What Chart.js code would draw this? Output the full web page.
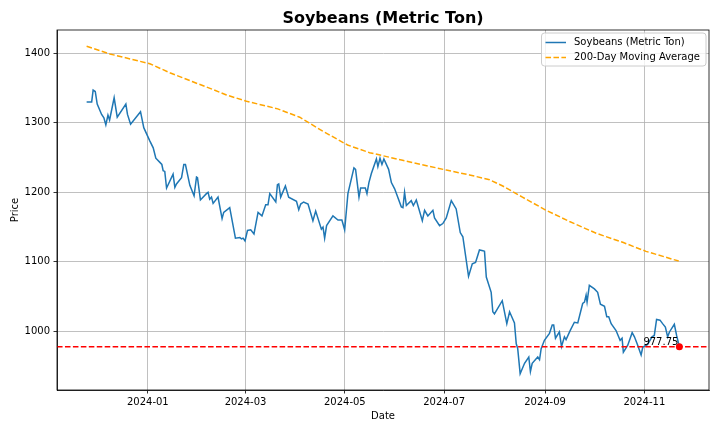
<!DOCTYPE html>
<html>
<head>
<meta charset="utf-8">
<script src="https://cdn.jsdelivr.net/npm/chart.js@4"></script>
<style>
  html, body { margin: 0; padding: 0; background: #fff; }
  #wrap { width: 720px; height: 432px; }
</style>
</head>
<body>
<div id="wrap"><canvas id="soyChart" width="720" height="432"></canvas></div>
<script>
// days are counted from 2024-01-01 (0 = Jan 1, negative = late 2023)

// Soybeans close
const priceDays = [
  -37.6, -34.5, -33.6, -32.3, -31.1, -28.4, -27.0, -25.8, -24.5, -23.5,
  -20.7, -18.8, -13.5, -12.5, -10.6, -4.5, -2.5, 1.2, 3.3, 4.9,
  7.4, 8.6, 9.4, 10.4, 11.5, 15.5, 16.6, 17.6, 20.7, 22.1,
  23.1, 25.8, 28.4, 29.9, 30.5, 32.3, 36.0, 37.0, 38.0, 39.1,
  40.1, 43.1, 45.6, 46.6, 50.3, 53.8, 56.5, 57.5, 58.5, 59.7,
  61.2, 63.2, 65.2, 67.7, 70.1, 72.4, 73.8, 74.9, 78.6, 79.6,
  80.4, 81.6, 84.5, 86.5, 91.3, 92.7, 93.9, 95.7, 98.4, 101.4,
  103.1, 106.6, 107.6, 108.6, 109.8, 113.7, 116.8, 119.2, 120.9, 122.9,
  126.6, 127.6, 129.7, 130.7, 133.6, 134.6, 135.8, 137.3, 140.4, 141.3,
  142.6, 143.8, 145.0, 147.9, 149.6, 151.6, 155.7, 156.7, 157.7, 158.8,
  161.8, 163.1, 164.9, 168.6, 170.0, 172.0, 175.1, 176.1, 179.2, 181.2,
  183.3, 186.4, 189.4, 191.9, 193.5, 197.0, 199.3, 201.3, 203.7, 205.8,
  206.8, 207.9, 210.9, 211.9, 212.9, 217.7, 220.5, 222.2, 225.2, 226.3,
  227.2, 228.7, 231.4, 234.0, 235.0, 236.1, 239.5, 240.6, 241.6, 243.6,
  246.7, 248.4, 249.3, 250.4, 252.8, 254.1, 255.9, 256.9, 259.4, 262.0,
  264.1, 267.1, 268.2, 269.2, 269.8, 271.2, 274.3, 276.3, 278.0, 280.5,
  281.9, 283.1, 284.6, 287.6, 290.1, 291.3, 292.1, 294.8, 297.5, 298.9,
  300.9, 303.0, 304.0, 307.0, 309.7, 311.1, 312.5, 314.6, 316.2, 317.9,
  319.3, 320.4, 323.4, 324.8, 326.5
];
const prices = [
  1330, 1330, 1347, 1345, 1327, 1312, 1307, 1297, 1311, 1304,
  1336, 1308, 1327, 1312, 1298, 1316, 1293, 1274, 1264, 1249,
  1243, 1240, 1231, 1230, 1206, 1226, 1207, 1212, 1221, 1240,
  1240, 1210, 1195, 1222, 1221, 1189, 1198, 1200, 1190, 1193,
  1184, 1193, 1162, 1171, 1178, 1134, 1135, 1133, 1134, 1130,
  1145, 1146, 1140, 1171, 1166, 1182, 1182, 1198, 1186, 1211,
  1212, 1193, 1209, 1193, 1187, 1175, 1183, 1186, 1183, 1159,
  1173, 1147, 1150, 1134, 1152, 1166, 1160, 1160, 1146, 1198,
  1235, 1233, 1193, 1206, 1206, 1198, 1214, 1227, 1248, 1237,
  1249, 1240, 1248, 1233, 1214, 1205, 1179, 1178, 1200, 1181,
  1188, 1181, 1189, 1159, 1174, 1166, 1174, 1163, 1152, 1155,
  1163, 1188, 1176, 1142, 1136, 1079, 1097, 1099, 1117, 1116,
  1115, 1078, 1056, 1028, 1025, 1044, 1011, 1028, 1012, 982,
  975, 939, 954, 963, 942, 954, 963, 959, 975, 987,
  997, 1009, 1009, 990, 999, 978, 992, 988, 1001, 1013,
  1012, 1040, 1042, 1052, 1042, 1066, 1061, 1056, 1039, 1036,
  1021, 1021, 1011, 1001, 987, 990, 970, 980, 998, 992,
  980, 966, 977, 981, 992, 994, 1017, 1016, 1011, 1006,
  992, 999, 1010, 994, 977.75
];

// 200-day moving average
const maDays = [
  -37.6, -23.3, 1.2, 13.5, 27.6, 39.9, 48.3, 60.6, 79.8, 93.3,
  107.4, 122.7, 136.2, 156.5, 183.3, 197.6, 209.9, 218.0, 230.1, 244.7,
  259.0, 275.4, 291.7, 306.0, 326.1
];
const maValues = [
  1410, 1399, 1385, 1372, 1359, 1348, 1340, 1331, 1320, 1308,
  1288, 1268, 1257, 1246, 1232, 1225, 1218, 1209, 1193, 1174,
  1158, 1141, 1128, 1115, 1101
];

const lastDay = 326.5;
const lastClose = 977.75;

const tickDays = [0, 60, 121, 182, 244, 305];
const tickLabels = ['2024-01', '2024-03', '2024-05', '2024-07', '2024-09', '2024-11'];
const yTicks = [1000, 1100, 1200, 1300, 1400];

const xMin = -55.8, xMax = 344.7;
const yMin = 915.5, yMax = 1433.5;

const FONT = 'DejaVu Sans';
const BLUE = '#1f77b4';
const ORANGE = '#ffa500';
const DASH = [5.55, 2.4];

// title, frame, annotation and the in-plot legend, drawn the matplotlib way
const extras = {
  id: 'extras',
  afterDatasetsDraw(chart) {
    const { ctx, chartArea: a, scales } = chart;
    ctx.save();
    // frame
    ctx.strokeStyle = '#000';
    ctx.lineWidth = 0.8;
    ctx.strokeRect(a.left, a.top, a.right - a.left, a.bottom - a.top);

    // title
    ctx.fillStyle = '#000';
    ctx.font = 'bold 16px "' + FONT + '"';
    ctx.textAlign = 'center';
    ctx.textBaseline = 'alphabetic';
    ctx.fillText('Soybeans (Metric Ton)', (a.left + a.right) / 2, 23);

    // last close label
    ctx.font = '10px "' + FONT + '"';
    ctx.textAlign = 'right';
    ctx.fillText(lastClose.toFixed(2), scales.x.getPixelForValue(lastDay) - 1,
      scales.y.getPixelForValue(lastClose) - 2);

    // legend box
    const bx = 541.5, by = 33, bw = 164.5, bh = 33, r = 3;
    ctx.beginPath();
    ctx.roundRect(bx, by, bw, bh, r);
    ctx.fillStyle = 'rgba(255,255,255,0.8)';
    ctx.fill();
    ctx.strokeStyle = '#cccccc';
    ctx.lineWidth = 1;
    ctx.stroke();

    const rows = [
      { text: 'Soybeans (Metric Ton)', color: BLUE, dash: [] },
      { text: '200-Day Moving Average', color: ORANGE, dash: DASH }
    ];
    rows.forEach((row, i) => {
      const yy = by + 9.5 + i * 15;
      ctx.beginPath();
      ctx.setLineDash(row.dash);
      ctx.strokeStyle = row.color;
      ctx.lineWidth = 1.5;
      ctx.moveTo(545.5, yy);
      ctx.lineTo(566, yy);
      ctx.stroke();
      ctx.setLineDash([]);
      ctx.fillStyle = '#000';
      ctx.font = '10px "' + FONT + '"';
      ctx.textAlign = 'left';
      ctx.textBaseline = 'middle';
      ctx.fillText(row.text, 574, yy);
    });
    ctx.restore();
  }
};

const ctx = document.getElementById('soyChart').getContext('2d');
new Chart(ctx, {
  type: 'line',
  data: {
    datasets: [
      {
        label: 'last',
        type: 'scatter',
        data: [{ x: lastDay, y: lastClose }],
        backgroundColor: 'red',
        borderColor: 'red',
        pointRadius: 3.5,
        borderWidth: 0
      },
      {
        label: 'level',
        data: [{ x: xMin, y: lastClose }, { x: xMax, y: lastClose }],
        borderColor: 'red',
        borderWidth: 1.5,
        borderDash: DASH,
        pointRadius: 0
      },
      {
        label: '200-Day Moving Average',
        data: maDays.map((d, i) => ({ x: d, y: maValues[i] })),
        borderColor: ORANGE,
        borderWidth: 1.5,
        borderDash: DASH,
        pointRadius: 0
      },
      {
        label: 'Soybeans (Metric Ton)',
        data: priceDays.map((d, i) => ({ x: d, y: prices[i] })),
        borderColor: BLUE,
        borderWidth: 1.5,
        pointRadius: 0
      }
    ]
  },
  options: {
    responsive: false,
    animation: false,
    devicePixelRatio: 1,
    layout: { padding: { top: 30, right: 11, left: 0, bottom: 0 } },
    plugins: {
      legend: { display: false },
      tooltip: { enabled: false },
      title: { display: false }
    },
    scales: {
      x: {
        type: 'linear',
        min: xMin,
        max: xMax,
        afterBuildTicks: s => { s.ticks = tickDays.map(v => ({ value: v })); },
        afterFit: s => { s.height = 42; },
        ticks: {
          autoSkip: false,
          maxRotation: 0,
          padding: 3,
          color: '#000',
          font: { family: FONT, size: 10 },
          callback: v => tickLabels[tickDays.indexOf(v)]
        },
        grid: { color: '#b0b0b0', lineWidth: 0.8, tickLength: 3.5, tickColor: '#000', tickWidth: 0.8 },
        border: { color: '#000', width: 0.8 },
        title: { display: true, text: 'Date', color: '#000', font: { family: FONT, size: 10 }, padding: { top: 0, bottom: 10 } }
      },
      y: {
        min: yMin,
        max: yMax,
        afterBuildTicks: s => { s.ticks = yTicks.map(v => ({ value: v })); },
        afterFit: s => { s.width = 57; },
        ticks: {
          padding: 3.5,
          color: '#000',
          font: { family: FONT, size: 10 },
          callback: v => String(v)
        },
        grid: { color: '#b0b0b0', lineWidth: 0.8, tickLength: 3.5, tickColor: '#000', tickWidth: 0.8 },
        border: { color: '#000', width: 0.8 },
        title: { display: true, text: 'Price', color: '#000', font: { family: FONT, size: 10 }, padding: { top: 9.5, bottom: 0 } }
      }
    }
  },
  plugins: [extras]
});
</script>
</body>
</html>
